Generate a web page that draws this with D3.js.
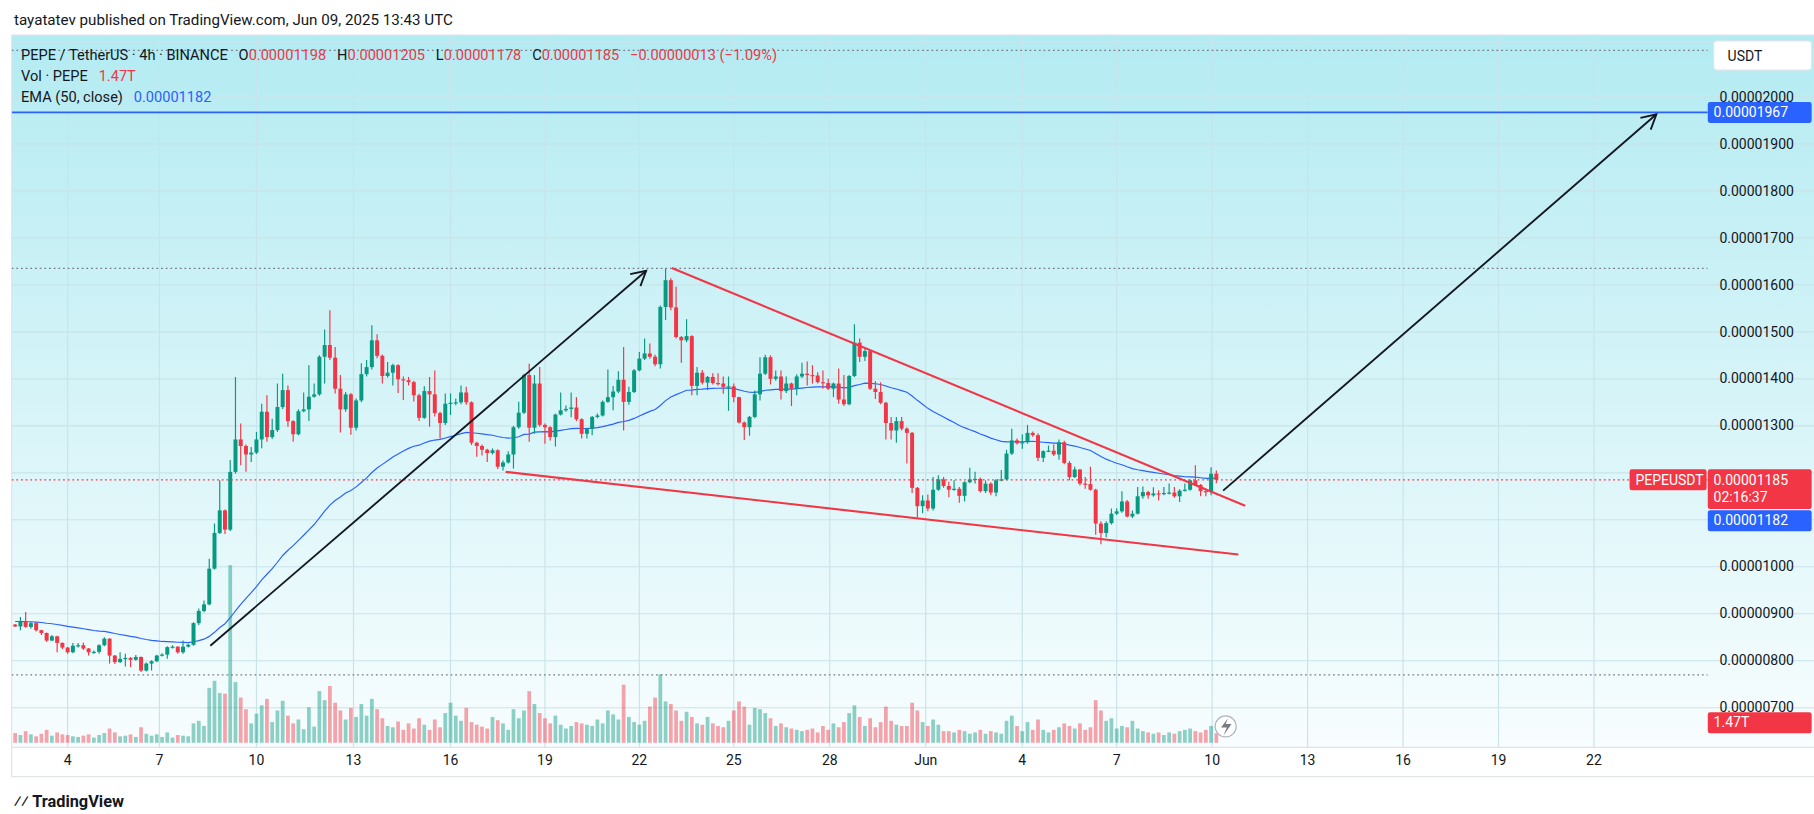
<!DOCTYPE html>
<html><head><meta charset="utf-8">
<script src="https://cdn.jsdelivr.net/npm/d3@7"></script>
<style>html,body{margin:0;padding:0;background:#fff;overflow:hidden}text{font-family:Roboto,"Liberation Sans",sans-serif;white-space:pre}</style>
</head><body><div id="chart"></div>
<script>
// prices in units of 1e-8 USDT, 4h candles, open = previous close
const firstOpen = 877
const closes = [873,884,872,880,865,859,843,852,838,828,818,832,833,826,818,819,833,847,811,797,804,806,802,808,779,794,799,811,813,829,830,818,830,834,880,906,920,996,1072,1120,1079,1202,1271,1257,1239,1243,1271,1330,1276,1291,1340,1376,1310,1282,1331,1335,1362,1367,1447,1472,1445,1379,1335,1367,1296,1354,1410,1425,1482,1449,1406,1413,1429,1399,1397,1393,1365,1317,1374,1367,1327,1306,1347,1349,1350,1371,1350,1264,1257,1249,1242,1248,1213,1222,1239,1297,1328,1408,1296,1390,1302,1297,1276,1324,1333,1336,1339,1314,1283,1294,1319,1322,1351,1361,1373,1398,1351,1372,1418,1443,1454,1447,1431,1553,1610,1552,1489,1482,1491,1385,1413,1392,1404,1391,1390,1383,1384,1361,1307,1297,1319,1367,1411,1446,1400,1405,1374,1390,1379,1405,1411,1408,1407,1393,1391,1379,1390,1356,1346,1406,1477,1447,1459,1379,1372,1349,1306,1290,1310,1294,1285,1168,1129,1141,1124,1164,1186,1172,1164,1166,1151,1180,1186,1187,1161,1177,1158,1184,1186,1241,1269,1263,1265,1285,1280,1232,1246,1247,1239,1265,1221,1191,1207,1177,1176,1164,1092,1072,1093,1113,1118,1139,1107,1113,1150,1159,1152,1156,1155,1157,1158,1150,1162,1164,1184,1174,1161,1159,1198,1185]
const highs = [878,893,904,883,882,866,860,855,853,839,829,838,838,839,827,822,835,850,848,812,818,815,808,812,809,796,801,813,816,831,833,831,843,836,882,911,928,1017,1092,1184,1122,1227,1404,1305,1260,1255,1287,1347,1365,1315,1390,1411,1386,1312,1335,1371,1429,1390,1450,1505,1546,1468,1408,1372,1370,1358,1433,1440,1514,1495,1452,1436,1432,1431,1405,1404,1396,1368,1384,1404,1418,1330,1369,1369,1358,1386,1383,1352,1266,1260,1251,1252,1250,1226,1246,1300,1351,1411,1432,1408,1425,1305,1299,1326,1371,1343,1371,1361,1316,1296,1321,1326,1354,1420,1385,1416,1468,1383,1421,1457,1486,1475,1451,1556,1635,1614,1596,1491,1527,1493,1425,1419,1406,1412,1412,1405,1405,1390,1362,1309,1321,1375,1446,1451,1450,1418,1418,1405,1392,1410,1434,1437,1429,1414,1418,1400,1392,1422,1408,1408,1516,1486,1464,1460,1395,1393,1351,1319,1319,1319,1297,1287,1170,1152,1154,1191,1195,1191,1181,1184,1170,1182,1211,1202,1190,1184,1180,1187,1206,1249,1294,1273,1282,1302,1288,1284,1248,1258,1260,1271,1268,1225,1213,1208,1191,1213,1166,1097,1097,1124,1124,1161,1142,1120,1170,1171,1162,1169,1163,1170,1177,1170,1165,1177,1186,1216,1176,1163,1212,1205]
const lows = [872,865,870,868,862,855,840,842,818,825,815,816,828,823,811,815,815,831,794,793,795,788,786,800,776,777,779,797,809,804,826,815,815,828,832,876,903,918,994,1070,1070,1076,1198,1216,1202,1223,1240,1252,1266,1272,1287,1336,1298,1266,1280,1329,1310,1360,1364,1390,1440,1369,1286,1330,1281,1290,1350,1405,1420,1444,1390,1403,1386,1370,1355,1386,1352,1310,1315,1298,1320,1273,1302,1323,1344,1346,1345,1259,1234,1237,1223,1239,1208,1205,1220,1209,1294,1325,1266,1283,1298,1262,1269,1256,1322,1330,1318,1310,1273,1273,1280,1316,1320,1349,1333,1370,1290,1345,1370,1416,1440,1443,1427,1422,1525,1546,1486,1434,1478,1365,1365,1388,1376,1388,1386,1368,1332,1350,1305,1270,1279,1316,1354,1408,1388,1396,1356,1370,1342,1365,1402,1386,1390,1390,1379,1376,1361,1347,1342,1344,1404,1436,1438,1376,1357,1346,1271,1271,1264,1290,1220,1157,1105,1114,1118,1120,1162,1168,1148,1162,1136,1139,1178,1177,1158,1157,1152,1150,1182,1184,1238,1260,1251,1262,1277,1225,1223,1244,1236,1228,1218,1184,1189,1173,1166,1162,1068,1048,1063,1090,1110,1115,1105,1104,1111,1145,1145,1149,1141,1152,1154,1147,1138,1160,1162,1172,1150,1150,1152,1178]
// volume in trillions PEPE
const volumes = [1.5,1.2,1.8,1.3,1.0,1.4,2.0,1.1,1.6,1.3,1.2,1.0,0.9,1.1,1.3,0.8,1.2,1.5,2.2,1.6,1.0,1.1,1.3,0.9,2.4,1.4,1.1,1.3,0.9,1.6,0.8,1.2,1.1,1.0,3.0,3.4,2.6,8.5,9.6,7.7,7.6,27.5,9.4,7.0,5.2,3.0,4.5,5.8,6.8,3.2,5.0,6.5,4.2,3.0,3.6,2.1,5.5,2.5,8.0,6.6,8.8,6.2,5.0,3.6,5.4,4.0,6.0,4.2,6.8,5.2,3.8,2.6,2.4,3.3,2.0,3.0,2.2,3.8,2.8,2.0,3.6,2.4,4.6,6.2,4.2,3.4,5.4,3.2,2.8,2.5,2.2,4.0,3.5,3.0,2.0,5.2,3.8,5.0,8.0,6.0,4.6,3.8,3.0,4.2,2.8,2.2,2.6,3.2,3.0,2.8,2.6,3.6,3.0,5.0,4.4,3.6,9.0,4.0,3.2,2.8,3.4,5.6,7.0,10.6,6.4,6.0,5.0,3.4,4.8,4.0,3.0,2.8,4.0,3.0,2.6,2.4,3.4,5.0,6.4,5.6,2.8,5.4,5.2,4.6,3.8,2.6,3.0,2.4,2.2,2.0,1.8,2.0,2.2,1.6,2.6,2.0,3.0,2.4,3.2,4.6,5.8,4.0,2.6,3.8,2.4,3.2,5.6,3.4,2.8,2.6,2.6,6.2,5.0,3.2,2.6,3.6,2.8,1.8,1.8,1.6,2.0,1.8,1.4,1.6,2.0,1.4,1.8,1.6,1.4,3.4,4.2,2.6,1.8,3.2,2.0,3.6,2.0,1.6,2.0,2.4,3.0,2.6,2.2,3.0,2.0,2.4,6.6,5.0,3.4,3.8,2.2,2.6,2.4,3.4,2.2,1.8,1.6,1.4,1.6,1.2,1.6,1.4,1.8,2.0,2.2,1.8,1.6,2.0,2.6,1.47]
const emaSeed = 884
const emaLast = 1182
const priceTicks = [700,800,900,1000,1100,1200,1300,1400,1500,1600,1700,1800,1900,2000]
const dateTicks = [["4",10],["7",27.5],["10",46],["13",64.5],["16",83],["19",101],["22",119],["25",137],["28",155.3],["Jun",173.6],["4",192],["7",210],["10",228.2],["13",246.4],["16",264.6],["19",282.8],["22",301]]
const targetPrice = 1967
// drawings: [index, price]
const upperLine = [[125.2,1636],[234.5,1130]]
const lowerLine = [[93.5,1202],[233.2,1026]]
const arrow1 = [[37.2,832],[120.3,1630]]
const arrow2 = [[230.3,1162],[312.9,1963]]

const W = 1554, H = 697
const L = 10, R = 1463, T = 30, B = 640
const svg = d3.select("#chart").append("svg")
  .attr("width", 1814).attr("height", 814)
  .attr("viewBox", `0 0 ${W} ${H}`).attr("preserveAspectRatio", "none")

const x = d3.scaleLinear().domain([0, 229]).range([13, 1042])
const y = d3.scaleLinear().domain([700, 2000]).range([606, 83])
const yv = d3.scaleLinear().domain([0, 27.5]).range([636, 484])

const defs = svg.append("defs")
const grad = defs.append("linearGradient").attr("id", "bg").attr("x1", 0).attr("x2", 0).attr("y1", 0).attr("y2", 1)
grad.append("stop").attr("offset", "0%").attr("stop-color", "#b3ebf2")
grad.append("stop").attr("offset", "100%").attr("stop-color", "#f8fdfe")
defs.append("clipPath").attr("id", "clip").append("rect").attr("x", L).attr("y", T).attr("width", R - L).attr("height", B - T)

svg.append("text").attr("x", 12).attr("y", 21).attr("font-size", 13).attr("fill", "#131722")
  .text("tayatatev published on TradingView.com, Jun 09, 2025 13:43 UTC")
svg.append("rect").attr("x", L).attr("y", T).attr("width", 1556 - L).attr("height", B - T).attr("fill", "url(#bg)")
svg.append("rect").attr("x", L).attr("y", T).attr("width", 1556 - L).attr("height", 665 - T).attr("fill", "none").attr("stroke", "#e0e3eb")
svg.append("line").attr("x1", L).attr("x2", 1556).attr("y1", B).attr("y2", B).attr("stroke", "#e0e3eb")

const grid = svg.append("g").attr("stroke", "#c8e4ea").attr("stroke-width", 1)
grid.selectAll(".hg").data(priceTicks).join("line").attr("x1", L).attr("x2", 1556).attr("y1", d => y(d)).attr("y2", d => y(d))
grid.append("line").attr("x1", L).attr("x2", 1556).attr("y1", 36).attr("y2", 36)
grid.selectAll(".vg").data(dateTicks).join("line").attr("x1", d => x(d[1])).attr("x2", d => x(d[1])).attr("y1", T).attr("y2", B)

const plot = svg.append("g").attr("clip-path", "url(#clip)")
// dotted markers
const dotted = [d3.max(highs), 2099, 770]
plot.selectAll(".dl").data(dotted).join("line").attr("x1", L).attr("x2", R)
  .attr("y1", d => y(d)).attr("y2", d => y(d)).attr("stroke", "#787b86").attr("stroke-dasharray", "1.5,2.5")

const opens = closes.map((c, i) => i === 0 ? firstOpen : closes[i - 1])
const up = i => closes[i] >= opens[i]
const GREEN = "#089981", RED = "#f23645"

plot.selectAll(".vol").data(volumes).join("rect")
  .attr("x", (d, i) => x(i) - 1.6).attr("width", 3.2)
  .attr("y", d => yv(d)).attr("height", d => 636 - yv(d))
  .attr("fill", (d, i) => up(i) ? "rgba(8,153,129,0.45)" : "rgba(242,54,69,0.45)")

// EMA 50
const k = 2 / 51
let e = emaSeed
const ema = closes.map(c => (e = c * k + e * (1 - k)))
plot.append("path").datum(ema).attr("fill", "none").attr("stroke", "#2962ff").attr("stroke-width", 1)
  .attr("d", d3.line().x((d, i) => x(i)).y(d => y(d)))

plot.selectAll(".wick").data(closes).join("line")
  .attr("x1", (d, i) => x(i)).attr("x2", (d, i) => x(i))
  .attr("y1", (d, i) => y(Math.max(highs[i], d, opens[i]))).attr("y2", (d, i) => y(Math.min(lows[i], d, opens[i])))
  .attr("stroke", (d, i) => up(i) ? GREEN : RED).attr("stroke-width", 1)
plot.selectAll(".body").data(closes).join("rect")
  .attr("x", (d, i) => x(i) - 1.7).attr("width", 3.4)
  .attr("y", (d, i) => y(Math.max(d, opens[i])))
  .attr("height", (d, i) => Math.max(1, Math.abs(y(d) - y(opens[i]))))
  .attr("fill", (d, i) => up(i) ? GREEN : RED)

// drawings
plot.append("line").attr("x1", L).attr("x2", R).attr("y1", y(targetPrice)).attr("y2", y(targetPrice)).attr("stroke", "#2962ff").attr("stroke-width", 1.6)
plot.append("line").attr("x1", L).attr("x2", R).attr("y1", y(closes[229])).attr("y2", y(closes[229])).attr("stroke", RED).attr("stroke-dasharray", "1.5,2.5")
for (const ln of [upperLine, lowerLine]) {
  plot.append("line").attr("x1", x(ln[0][0])).attr("y1", y(ln[0][1])).attr("x2", x(ln[1][0])).attr("y2", y(ln[1][1]))
    .attr("stroke", "#f23645").attr("stroke-width", 1.8)
}
for (const a of [arrow1, arrow2]) {
  const x1 = x(a[0][0]), y1 = y(a[0][1]), x2 = x(a[1][0]), y2 = y(a[1][1])
  plot.append("line").attr("x1", x1).attr("y1", y1).attr("x2", x2).attr("y2", y2).attr("stroke", "#131722").attr("stroke-width", 1.6)
  const ang = Math.atan2(y2 - y1, x2 - x1), s = 14
  const p = d3.path()
  p.moveTo(x2 - s * Math.cos(ang - 0.5), y2 - s * Math.sin(ang - 0.5)); p.lineTo(x2, y2)
  p.lineTo(x2 - s * Math.cos(ang + 0.5), y2 - s * Math.sin(ang + 0.5))
  plot.append("path").attr("d", p.toString()).attr("fill", "none").attr("stroke", "#131722").attr("stroke-width", 1.6)
}

// price axis
svg.selectAll(".pt").data(priceTicks.filter(d => d !== 1200 && d !== 1100)).join("text").attr("x", 1473).attr("y", d => y(d) + 4)
  .attr("font-size", 12).attr("fill", "#131722").text(d => (d / 1e8).toFixed(8))
svg.selectAll(".dt").data(dateTicks).join("text").attr("x", d => x(d[1])).attr("y", 655)
  .attr("text-anchor", "middle").attr("font-size", 12).attr("fill", "#131722").text(d => d[0])

svg.append("rect").attr("x", 1468).attr("y", 35).attr("width", 84).attr("height", 25).attr("rx", 3).attr("fill", "#fff").attr("stroke", "#e0e3eb")
svg.append("text").attr("x", 1480).attr("y", 52).attr("font-size", 12).attr("fill", "#131722").text("USDT")

function tag(px, py, h, fill, lines) {
  svg.append("rect").attr("x", px).attr("y", py).attr("width", 1556 - px - 4).attr("height", h).attr("rx", 2).attr("fill", fill)
  lines.forEach((t, j) => svg.append("text").attr("x", px + 5).attr("y", py + 13 + j * 15).attr("font-size", 12).attr("fill", "#fff").text(t))
}
const cy = y(closes[229])
tag(1463, y(targetPrice) - 9, 18, "#2962ff", ["0.00001967"])
tag(1463, cy - 9, 34, RED, ["0.00001185", "02:16:37"])
tag(1463, cy + 26, 18, "#2962ff", [(emaLast / 1e8).toFixed(8)])
tag(1463, yv(volumes[229]) - 18, 18, RED, [volumes[229] + "T"])
svg.append("rect").attr("x", 1396).attr("y", cy - 9).attr("width", 66).attr("height", 18).attr("rx", 2).attr("fill", RED)
svg.append("text").attr("x", 1401).attr("y", cy + 4).attr("font-size", 12).attr("fill", "#fff").text("PEPEUSDT")

// legend
const lg = svg.append("g").attr("font-size", 12.5)
const l1 = lg.append("text").attr("x", 18).attr("y", 51).attr("fill", "#131722")
l1.append("tspan").text("PEPE / TetherUS · 4h · BINANCE   O")
l1.append("tspan").attr("fill", RED).text("0.00001198")
l1.append("tspan").text("   H")
l1.append("tspan").attr("fill", RED).text("0.00001205")
l1.append("tspan").text("   L")
l1.append("tspan").attr("fill", RED).text("0.00001178")
l1.append("tspan").text("   C")
l1.append("tspan").attr("fill", RED).text("0.00001185   −0.00000013 (−1.09%)")
const l2 = lg.append("text").attr("x", 18).attr("y", 69).attr("fill", "#131722")
l2.append("tspan").text("Vol · PEPE   ")
l2.append("tspan").attr("fill", RED).text("1.47T")
const l3 = lg.append("text").attr("x", 18).attr("y", 87).attr("fill", "#131722")
l3.append("tspan").text("EMA (50, close)   ")
l3.append("tspan").attr("fill", "#2962ff").text((emaLast / 1e8).toFixed(8))

svg.append("circle").attr("cx", 1050).attr("cy", 622).attr("r", 9).attr("fill", "#fff").attr("stroke", "#b2b5be")
svg.append("path").attr("d", "M1052,615 L1046,623 L1051,623 L1048,630 L1055,620 L1050,620 Z").attr("fill", "#787b86")

svg.append("text").attr("x", 12).attr("y", 691).attr("font-size", 14).attr("font-weight", "bold").attr("fill", "#131722").text("⁄⁄ TradingView")
</script></body></html>
